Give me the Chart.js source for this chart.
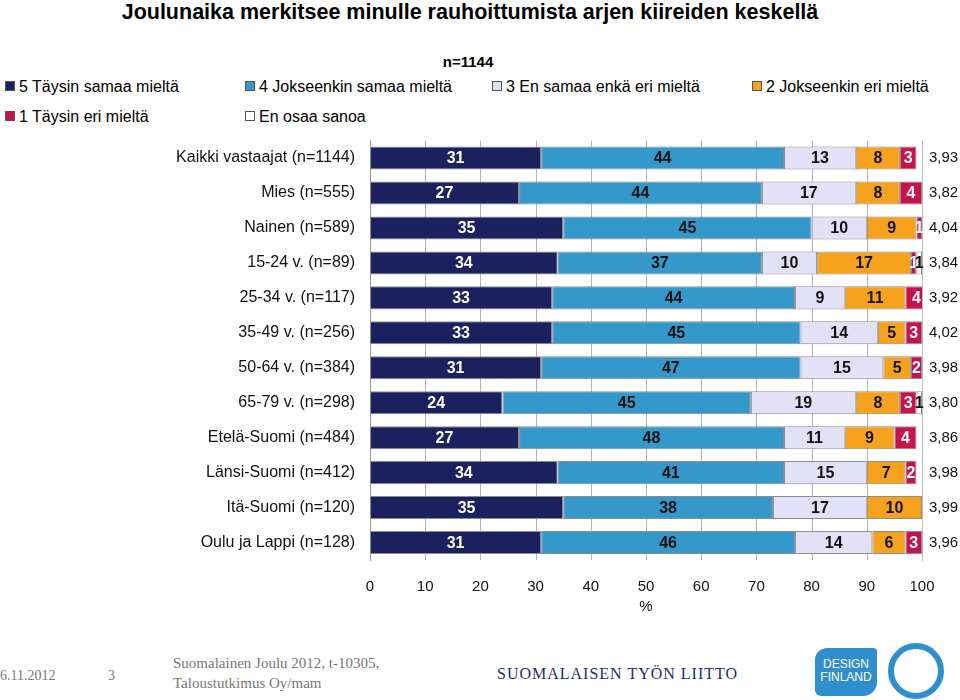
<!DOCTYPE html>
<html>
<head>
<meta charset="utf-8">
<script src="https://cdn.jsdelivr.net/npm/chart.js@4.4.0/dist/chart.umd.min.js"></script>
<style>
  body { margin: 0; width: 960px; height: 700px; background: #fff; position: relative; overflow: hidden;
         font-family: "Liberation Sans", Arial, sans-serif; color: #000; }
  #title { position: absolute; left: 0; width: 940px; top: 0; text-align: center; font-weight: bold; font-size: 21.5px; }
  #nlabel { position: absolute; left: 0; width: 936px; top: 53px; text-align: center; font-weight: bold; font-size: 15px; }
  .leg { position: absolute; font-size: 16px; white-space: nowrap; }
  .leg span { display: inline-block; width: 8px; height: 8px; border: 1px solid #555; margin-right: 4px; vertical-align: 1px; }
  #chartBox { position: absolute; left: 0; top: 124px; width: 960px; height: 496px; }
  .foot { position: absolute; font-family: "Liberation Serif", "DejaVu Serif", serif; color: #777; font-size: 15px; }
  #stl { position: absolute; left: 497px; top: 665px; font-family: "Liberation Serif", serif; color: #1d2d6b;
         font-size: 16px; letter-spacing: 1px; }
  #ring { position: absolute; left: 888px; top: 643px; width: 56px; height: 56px; border: 6px solid #2f8fce;
          border-radius: 50%; box-sizing: border-box; }
  #design { position: absolute; left: 815px; top: 648px; width: 62px; height: 48px; background: #2f8fce;
            border-radius: 12px 4px 14px 6px; color: #fff; font-size: 12px; line-height: 13px; text-align: center;
            padding-top: 10px; box-sizing: border-box; }
</style>
</head>
<body>
<div id="title">Joulunaika merkitsee minulle rauhoittumista arjen kiireiden keskellä</div>
<div id="nlabel">n=1144</div>
<div id="legend"></div>
<div id="chartBox"><canvas id="chart"></canvas></div>
<div class="foot" style="left:0;top:668px;font-size:14px;">6.11.2012</div>
<div class="foot" style="left:108px;top:668px;font-size:14px;">3</div>
<div class="foot" style="left:173px;top:655px;">Suomalainen Joulu 2012, t-10305,</div>
<div class="foot" style="left:173px;top:675px;">Taloustutkimus Oy/mam</div>
<div id="stl">SUOMALAISEN TYÖN LIITTO</div>
<div id="design">DESIGN<br>FINLAND</div>
<div id="ring"></div>
<script>
const categories = ['Kaikki vastaajat (n=1144)', 'Mies (n=555)', 'Nainen (n=589)', '15-24 v. (n=89)',
  '25-34 v. (n=117)', '35-49 v. (n=256)', '50-64 v. (n=384)', '65-79 v. (n=298)',
  'Etelä-Suomi (n=484)', 'Länsi-Suomi (n=412)', 'Itä-Suomi (n=120)', 'Oulu ja Lappi (n=128)'];
const means = ['3,93', '3,82', '4,04', '3,84', '3,92', '4,02', '3,98', '3,80', '3,86', '3,98', '3,99', '3,96'];
const xTicks = [0, 10, 20, 30, 40, 50, 60, 70, 80, 90, 100];

const s5 = [31, 27, 35, 34, 33, 33, 31, 24, 27, 34, 35, 31];
const s4 = [44, 44, 45, 37, 44, 45, 47, 45, 48, 41, 38, 46];
const s3 = [13, 17, 10, 10, 9, 14, 15, 19, 11, 15, 17, 14];
const s2 = [8, 8, 9, 17, 11, 5, 5, 8, 9, 7, 10, 6];
const s1 = [3, 4, 1, 1, 4, 3, 2, 3, 4, 2, null, 3];
const s0 = [null, null, null, 1, null, null, null, 1, null, null, null, null];

const seriesNames = ['5 Täysin samaa mieltä', '4 Jokseenkin samaa mieltä', '3 En samaa enkä eri mieltä',
  '2 Jokseenkin eri mieltä', '1 Täysin eri mieltä', 'En osaa sanoa'];
const seriesData = [s5, s4, s3, s2, s1, s0];
const colors = ['#1b205f', '#3598cb', '#e3e1f8', '#f7a21c', '#c8124b', '#ffffff'];
const labelColors = ['#fff', '#111', '#111', '#111', '#fff', '#111'];

// HTML legend, two rows like the original
const legendPos = [[5, 78], [245, 78], [492, 78], [752, 78], [5, 108], [245, 108]];
const legendEl = document.getElementById('legend');
seriesNames.forEach((name, i) => {
    const d = document.createElement('div');
    d.className = 'leg';
    d.style.left = legendPos[i][0] + 'px';
    d.style.top = legendPos[i][1] + 'px';
    d.innerHTML = '<span style="background:' + colors[i] + '"></span>' + name;
    legendEl.appendChild(d);
});

// vertical grid lines at the x ticks, painted behind whatever is already drawn
const xGrid = {
    id: 'xGrid',
    afterDraw(chart) {
        const ctx = chart.ctx;
        const area = chart.chartArea;
        const x = chart.scales.x;
        ctx.save();
        ctx.globalCompositeOperation = 'destination-over';
        ctx.fillStyle = '#b4b4b4';
        xTicks.forEach(v => {
            const px = Math.round(x.getPixelForValue(v));
            ctx.fillRect(px, area.top, 1, area.bottom - area.top);
        });
        ctx.restore();
    }
};

// value labels inside the bar segments
const segmentLabels = {
    id: 'segmentLabels',
    afterDatasetsDraw(chart) {
        const ctx = chart.ctx;
        ctx.save();
        ctx.font = 'bold 16px "Liberation Sans Narrow", "Liberation Sans", Arial, sans-serif';
        ctx.textAlign = 'center';
        ctx.textBaseline = 'middle';
        chart.data.datasets.forEach((ds, i) => {
            const meta = chart.getDatasetMeta(i);
            meta.data.forEach((bar, j) => {
                const v = ds.data[j];
                if (v == null) return;
                ctx.fillStyle = labelColors[i];
                ctx.fillText(String(v), (bar.x + bar.base) / 2, bar.y + 1);
            });
        });
        ctx.restore();
    }
};

const chart = new Chart(document.getElementById('chart'), {
    type: 'bar',
    data: {
        labels: categories,
        datasets: seriesData.map((d, i) => ({
            label: seriesNames[i],
            data: d,
            backgroundColor: colors[i],
            borderColor: '#8c8c8c',
            borderWidth: 1,
            borderSkipped: false,
            barPercentage: 0.66,
            categoryPercentage: 1,
            yAxisID: 'y'
        }))
    },
    options: {
        indexAxis: 'y',
        responsive: true,
        maintainAspectRatio: false,
        animation: false,
        layout: { padding: { top: 4, right: 0, left: 0, bottom: 0 } },
        plugins: { legend: { display: false }, tooltip: { enabled: false } },
        scales: {
            x: {
                stacked: true,
                min: 0,
                max: 100,
                afterBuildTicks: axis => { axis.ticks = xTicks.map(v => ({ value: v })); },
                afterFit: axis => { axis.height = 60; },
                grid: { display: false },
                border: { display: false },
                ticks: { color: '#111', padding: 10, font: { size: 15, family: '"Liberation Sans", Arial' } },
                title: { display: true, text: '%', color: '#111', padding: { top: 4 },
                         font: { size: 15, family: '"Liberation Sans", Arial' } }
            },
            y: {
                stacked: true,
                afterFit: axis => { axis.width = 370; },
                grid: { display: false },
                border: { display: true, color: '#9a9a9a' },
                ticks: { color: '#111', padding: 7, font: { size: 16, family: '"Liberation Sans", Arial' } }
            },
            y2: {
                type: 'category',
                position: 'right',
                labels: means,
                afterFit: axis => { axis.width = 38; },
                grid: { display: false },
                border: { display: true, color: '#bdbdbd' },
                ticks: { color: '#111', padding: -1, font: { size: 15, family: '"Liberation Sans", Arial' } }
            }
        }
    },
    plugins: [xGrid, segmentLabels]
});
</script>
</body>
</html>
